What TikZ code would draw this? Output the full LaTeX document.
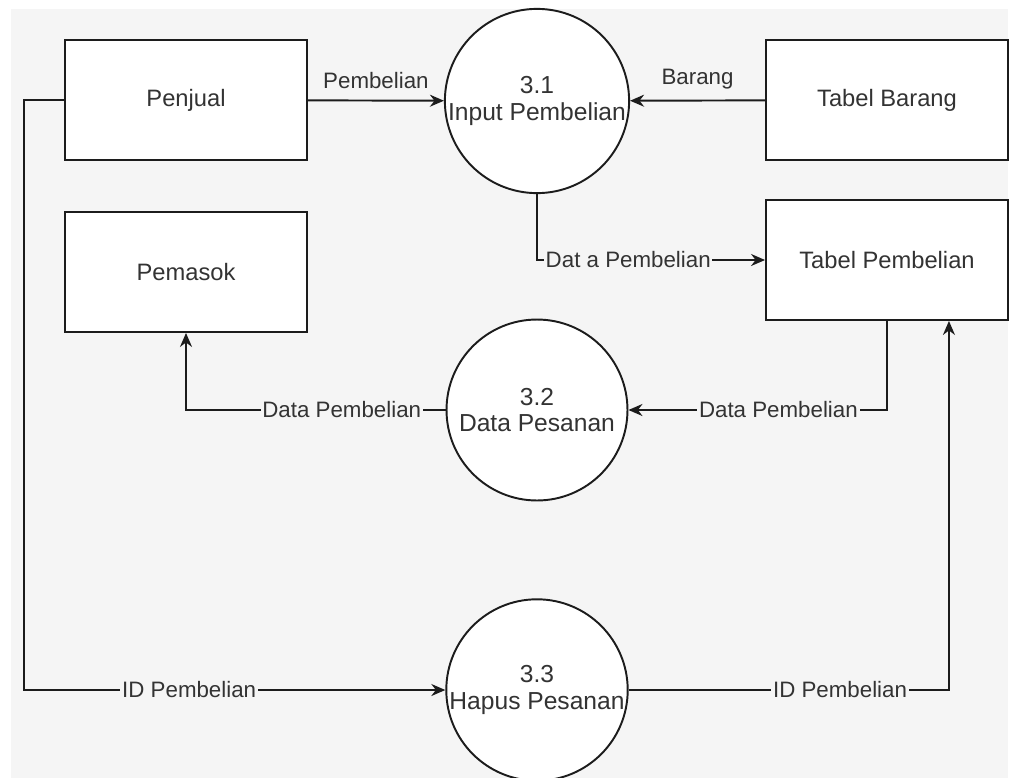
\documentclass[tikz,border=0pt]{standalone}
\usepackage{fontspec}
\setmainfont{Liberation Sans}
\usepackage{tikz}
\usetikzlibrary{arrows.meta,positioning}
\definecolor{kanvas}{HTML}{F5F5F5}
\definecolor{garis}{HTML}{1C1C1C}
\definecolor{tulisan}{HTML}{333333}
\tikzset{entitas/.style={draw=garis,fill=white,line width=1.1pt,minimum width=4.84cm,minimum height=2.4cm,text=tulisan,font=\fontsize{13.5}{15}\selectfont},
  proses/.style={circle,draw=garis,fill=white,line width=1.1pt,minimum size=3.62cm,inner sep=0pt,align=center,text=tulisan,font=\fontsize{14}{15}\selectfont},
  alir/.style={draw=garis,line width=1.1pt,-{Stealth[length=0.28cm,width=0.24cm]}},
  ket/.style={fill=kanvas,inner sep=1pt,text=tulisan,font=\fontsize{12.7}{15}\selectfont}}
\newcommand{\proses}[4]{\node[proses] (#1) at (#2) {#3\\#4};}

\begin{document}
\begin{tikzpicture}[x=0.02cm,y=-0.02cm]
  \useasboundingbox (0,0) rectangle (1015,778);
  \clip (0,0) rectangle (1015,778);
  \fill[kanvas] (11,9) rectangle (1008,778);
  \node[entitas] (penjual) at (186,100) {Penjual};
  \node[entitas] (tabbar) at (887,100) {Tabel Barang};
  \node[entitas] (pemasok) at (186,272) {Pemasok};
  \node[entitas] (tabpemb) at (887,260) {Tabel Pembelian};
  \proses{p31}{537,101}{3.1}{Input Pembelian}
  \proses{p32}{537,410}{3.2}{Data Pesanan}
  \proses{p33}{537,690}{3.3}{Hapus Pesanan}
  \draw[alir] (penjual) -- node[ket,above=5pt] {Pembelian} (p31);
  \draw[alir] (tabbar) -- node[ket,above=5pt] {Barang} (p31);
  \draw[alir] (p31) |- node[ket,pos=0.7] {Dat a Pembelian} (tabpemb);
  \draw[alir] (tabpemb) |- node[ket,pos=0.71] {Data Pembelian} (p32);
  \draw[alir] (p32) -| node[ket,pos=0.2] {Data Pembelian} (pemasok);
  \draw[alir] (penjual.west) -- ++(-40,0) |- node[ket,pos=0.696] {ID Pembelian} (p33);
  \draw[alir] (p33) -| node[ket,pos=0.33] {ID Pembelian} ([xshift=-1.2cm]tabpemb.south east);
\end{tikzpicture}
\end{document}
